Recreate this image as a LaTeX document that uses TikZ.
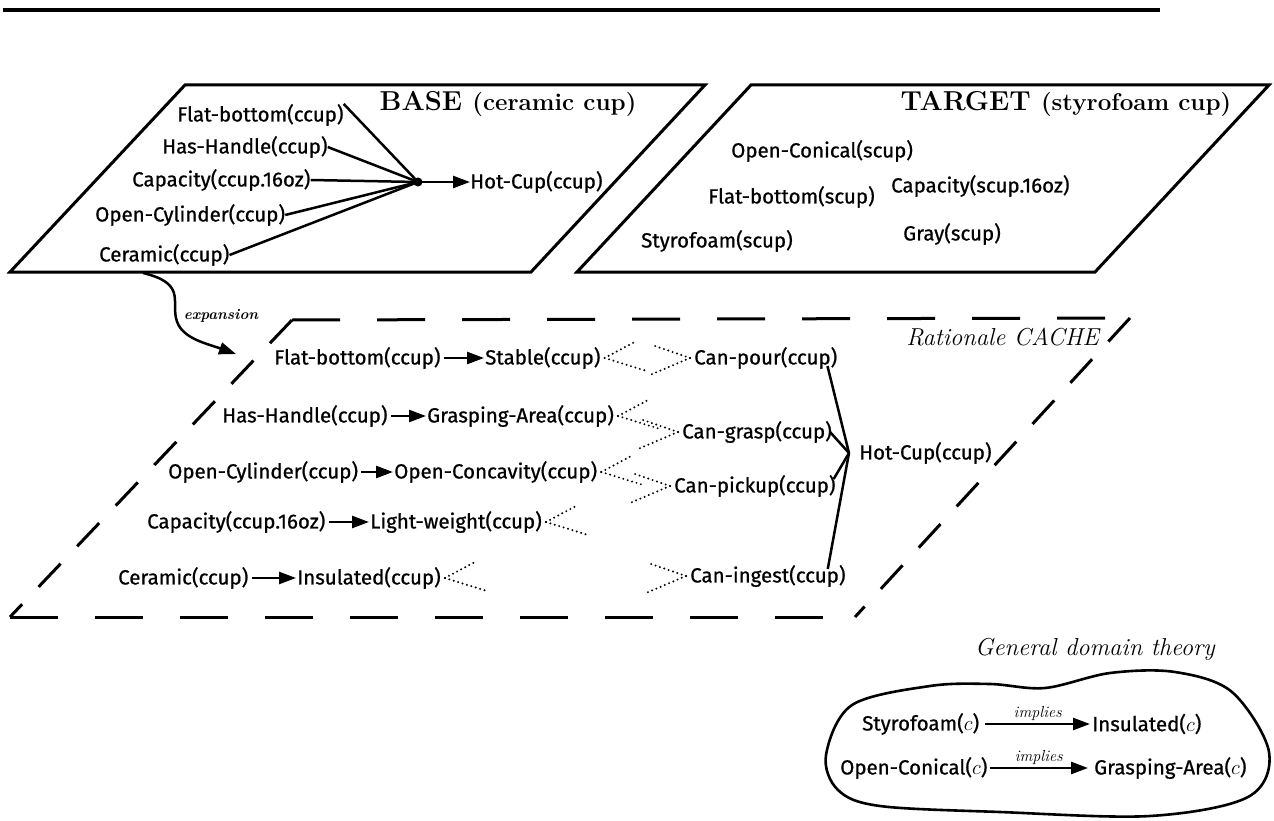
\documentclass[tikz,border=0pt]{standalone}
\usepackage{fontspec}
\newfontfamily\lblfont[FakeBold=0.8]{Fira Sans}
\usetikzlibrary{arrows.meta,calc}
\begin{document}
\begin{tikzpicture}[x=1pt,y=-1pt,
  lab/.style={font=\lblfont\fontsize{20.5}{23}\selectfont, inner sep=0pt, anchor=west},
  ttl/.style={font=\bfseries\fontsize{27.4}{30}\selectfont, inner sep=0pt},
  itl/.style={font=\itshape\fontsize{24.5}{28}\selectfont, inner sep=0pt},
  frame/.style={line width=3pt, line join=miter},
  dframe/.style={line width=3pt},
  conn/.style={line width=2.5pt},
  arr/.style={line width=2.5pt, -{Triangle[length=17pt,width=12pt]}},
  dots/.style={line width=2.2pt, dash pattern=on 0pt off 4.6pt, line cap=round}
]
\useasboundingbox (0,0) rectangle (1274,821);
% top rule
\coordinate (tl) at (3,10);
\coordinate (tr) at (1160,10);
\draw[line width=4.5pt] (tl) -- (tr);

% BASE frame
\coordinate (b1) at (185,85);
\coordinate (b2) at (705,85);
\coordinate (b3) at (531,272);
\coordinate (b4) at (10,272);
\draw[frame] (b1) -- (b2) -- (b3) -- (b4) -- cycle;
\node[ttl] (basettl) at (508,104) {BASE \fontsize{24.2}{28}\selectfont(ceramic cup)};

\node[lab] (bfb) at (177,115) {Flat-bottom(ccup)};
\node[lab] (bhh) at (162,147) {Has-Handle(ccup)};
\node[lab] (bcap) at (132,180) {Capacity(ccup.16oz)};
\node[lab] (boc) at (95,215) {Open-Cylinder(ccup)};
\node[lab] (bcer) at (99,255) {Ceramic(ccup)};
\coordinate (bconv) at (418,182);
\node[lab] (bhot) at (470,182) {Hot-Cup(ccup)};
\draw[conn] (bfb.north east) -- (bconv);
\draw[conn] (bhh.east) -- (bconv);
\draw[conn] (bcap.east) -- (bconv);
\draw[conn] (boc.east) -- (bconv);
\draw[conn] (bcer.east) -- (bconv);
\fill (bconv) circle (4.5pt);
\draw[arr] (bconv) -- (bhot.west);

% TARGET frame
\coordinate (t1) at (751,85);
\coordinate (t2) at (1269,85);
\coordinate (t3) at (1095,272);
\coordinate (t4) at (577,272);
\draw[frame] (t1) -- (t2) -- (t3) -- (t4) -- cycle;
\node[ttl] (tgtttl) at (1066,104) {TARGET \fontsize{24.2}{28}\selectfont(styrofoam cup)};
\node[lab] (toc) at (731,151) {Open-Conical(scup)};
\node[lab] (tfb) at (708,197) {Flat-bottom(scup)};
\node[lab] (tcap) at (891,186) {Capacity(scup.16oz)};
\node[lab] (tsty) at (641,241) {Styrofoam(scup)};
\node[lab] (tgray) at (903,234) {Gray(scup)};

% CACHE frame (dashed)
\coordinate (c1) at (292,320);
\coordinate (c2) at (1130,318);
\coordinate (c3) at (855,617);
\coordinate (c4) at (10,617);
\draw[dframe, dash pattern=on 48pt off 37pt] (c1) -- (c2);
\draw[dframe, dash pattern=on 48pt off 37pt] (c4) -- (c3);
\draw[dframe, dash pattern=on 32pt off 24pt] (c2) -- (c3);
\draw[dframe, dash pattern=on 32pt off 24pt] (c1) -- (c4);
\node[itl, anchor=east] (ctl) at (1099,337) {Rationale CACHE};

% expansion arrow
\coordinate (exs) at (143,273);
\coordinate (ext) at (236,354);
\draw[arr] (exs) .. controls (185,283) and (172,300) .. (176,318)
  .. controls (180,338) and (205,343) .. (ext);
\node[font=\bfseries\itshape\fontsize{15}{17}\selectfont, inner sep=0pt] (exl) at (221,316) {expansion};

% cache rows
\node[lab] (r1l) at (274,358) {Flat-bottom(ccup)};
\node[lab] (r1m) at (485,358) {Stable(ccup)};
\node[lab] (r2l) at (222,416) {Has-Handle(ccup)};
\node[lab] (r2m) at (427,416) {Grasping-Area(ccup)};
\node[lab] (r3l) at (168,472) {Open-Cylinder(ccup)};
\node[lab] (r3m) at (394,472) {Open-Concavity(ccup)};
\node[lab] (r4l) at (147,522) {Capacity(ccup.16oz)};
\node[lab] (r4m) at (370,522) {Light-weight(ccup)};
\node[lab] (r5l) at (118,578) {Ceramic(ccup)};
\node[lab] (r5m) at (297,578) {Insulated(ccup)};
\foreach \i in {1,...,5} {
  \draw[arr] ([xshift=3pt]r\i l.east) -- ([xshift=-1pt]r\i m.west);
  \draw[dots] ([xshift=4pt]r\i m.east) -- ++(30,-16);
  \draw[dots] ([xshift=4pt]r\i m.east) -- ++(42,13);
}
\node[lab] (cpour) at (694,358) {Can-pour(ccup)};
\node[lab] (cgrasp) at (682,432) {Can-grasp(ccup)};
\node[lab] (cpick) at (674,486) {Can-pickup(ccup)};
\node[lab] (cing) at (690,576) {Can-ingest(ccup)};
\foreach \n in {cpour,cgrasp,cpick,cing} {
  \draw[dots] ([xshift=-4pt]\n.west) -- ++(-35,-12);
  \draw[dots] ([xshift=-4pt]\n.west) -- ++(-40,17);
}
\coordinate (hconv) at (849,453);
\node[lab] (chot) at (859,453) {Hot-Cup(ccup)};
\draw[conn] ([xshift=-10pt,yshift=3pt]cpour.south east) -- (hconv);
\draw[conn] ([xshift=-2pt]cgrasp.east) -- (hconv);
\draw[conn] ([xshift=-2pt,yshift=-4pt]cpick.north east) -- (hconv);
\draw[conn] ([xshift=-18pt,yshift=-4pt]cing.north east) -- (hconv);

% general domain theory
\node[itl] (gdt) at (1095,649) {General domain theory};
\draw[line width=2.6pt] plot[smooth cycle, tension=0.55] coordinates {
  (826,755) (852,705) (930,686) (990,684) (1045,688) (1110,673)
  (1175,672) (1232,692) (1269,752) (1248,797) (1150,816) (1000,812) (880,806) (838,790)};
\node[lab] (gsty) at (862,724) {Styrofoam($c$)};
\node[lab] (gins) at (1092,724) {Insulated($c$)};
\node[lab] (goc) at (840,768) {Open-Conical($c$)};
\node[lab] (gga) at (1094,768) {Grasping-Area($c$)};
\draw[arr] ([xshift=6pt]gsty.east) -- node[above=1pt, font=\itshape\fontsize{16}{18}\selectfont, inner sep=1pt] {implies} ([xshift=-2pt]gins.west);
\draw[arr] ([xshift=2pt]goc.east) -- node[above=1pt, font=\itshape\fontsize{16}{18}\selectfont, inner sep=1pt] {implies} ([xshift=-6pt]gga.west);
\end{tikzpicture}
\end{document}
